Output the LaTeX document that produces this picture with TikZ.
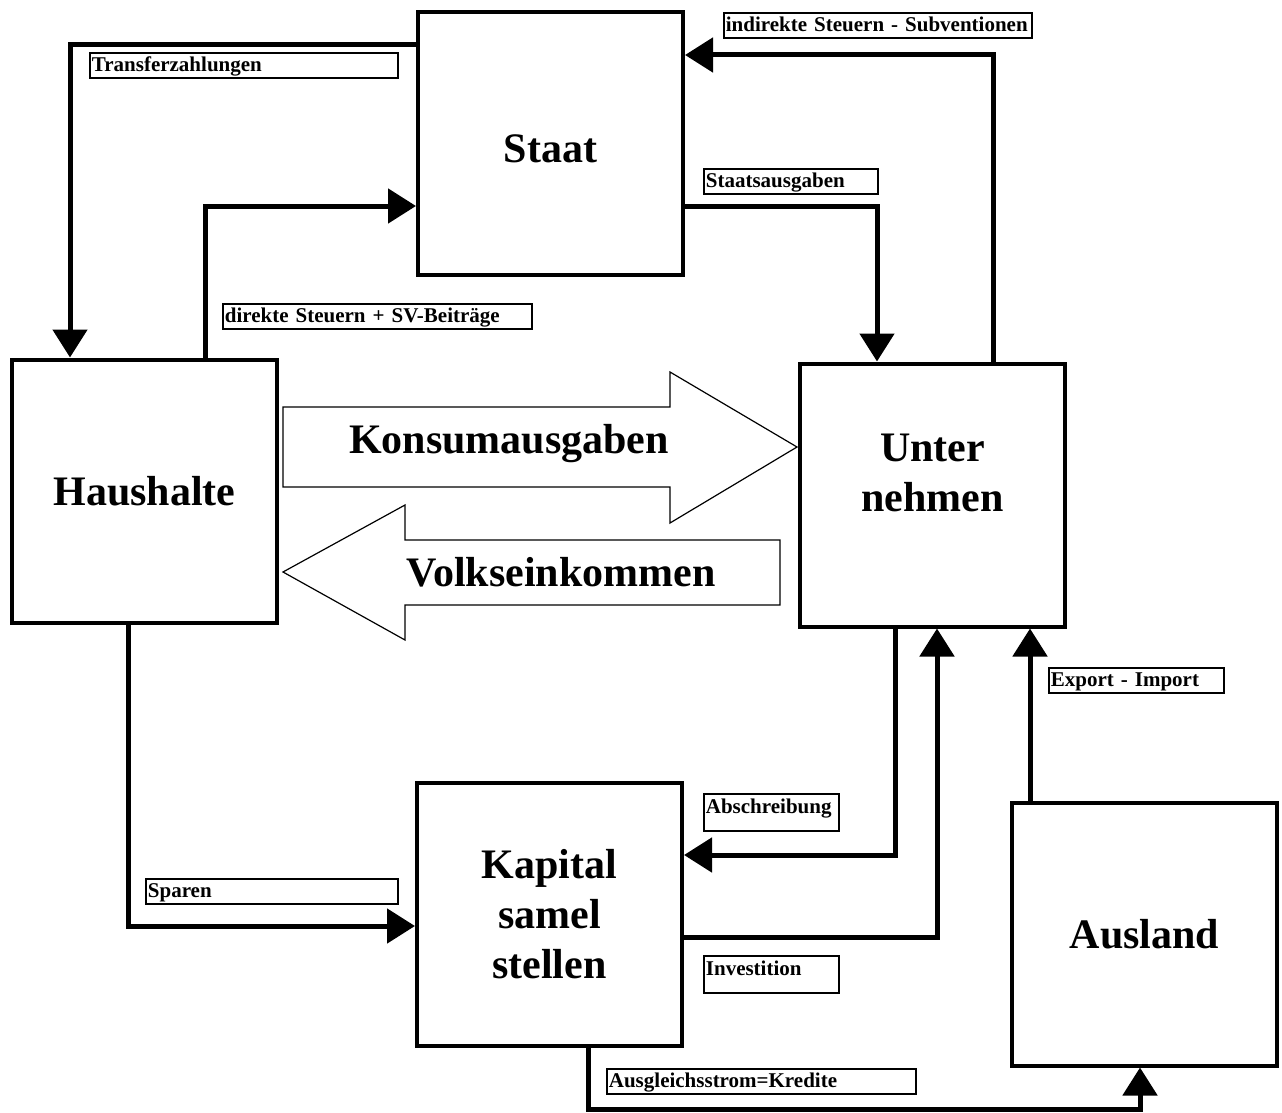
\documentclass[tikz,border=0pt]{standalone}
\usepackage{fontspec}
\setmainfont{Liberation Serif}
\usetikzlibrary{arrows.meta}
\tikzset{
  sec/.style    = {draw, line width=4pt, minimum width=265pt, minimum height=263pt,
                   inner sep=0pt, align=center, font=\fontsize{42}{50}\selectfont\bfseries},
  lbl/.style    = {draw, line width=1.8pt, anchor=north west, inner sep=2pt, align=left,
                   text width=#1, minimum height=25pt, text height=16.5pt, text depth=3.5pt,
                   font=\fontsize{21}{24}\selectfont\bfseries},
  tall/.style   = {minimum height=37pt, text depth=15pt},
  fl/.style     = {-{Triangle[length=28pt,width=34pt]}, line width=5pt},
  big/.style    = {draw, line width=1.2pt, fill=white},
  bigtxt/.style = {align=center, font=\fontsize{42}{50}\selectfont\bfseries},
}
\begin{document}
\begin{tikzpicture}[x=1pt, y=-1pt]
  \fill[white] (0,0) rectangle (1282,1113);
  \useasboundingbox (0,0) rectangle (1282,1113);
  % sectors
  \node[sec] (staat)   at (550.5,143.5) {};
  \node[sec] (haus)    at (144.5,491)   {Haushalte};
  \node[sec] (unter)   at (932.5,495)   {};
  \node[sec] (kapital) at (549.5,914)   {Kapital\\samel\\stellen};
  \node[sec] (ausland) at (1144.5,934)  {Ausland};
  \node[bigtxt] (staattxt) at ([yshift=-5pt]staat.center) {Staat};
  \node[bigtxt] (untertxt) at ([yshift=22pt]unter.center) {Unter\\nehmen};
  % big flows
  \draw[big] (283,407) -- (670,407) -- (670,372) -- (797,447) -- (670,523)
             -- (670,487) -- (283,487) -- cycle;
  \draw[big] (283,572) -- (405,505) -- (405,540) -- (780,540) -- (780,605)
             -- (405,605) -- (405,640) -- cycle;
  \node[bigtxt] (konsum) at (509,444) {Konsumausgaben};
  \node[bigtxt] (volk)   at (561,572) {Volkseinkommen};
  % flows
  \draw[fl] ([yshift=98.5pt]staat.west) -| ([xshift=-74.5pt]haus.north);
  \draw[fl] ([xshift=60.5pt]haus.north) |- ([yshift=-62.5pt]staat.west);
  \draw[fl] ([yshift=-62.5pt]staat.east) -| ([xshift=-55.5pt]unter.north);
  \draw[fl] ([xshift=60.5pt]unter.north) |- ([yshift=88.5pt]staat.east);
  \draw[fl] ([xshift=-16.5pt]haus.south) |- ([yshift=-12pt]kapital.west);
  \draw[fl] ([xshift=-37.5pt]unter.south) |- ([yshift=59pt]kapital.east);
  \draw[fl] ([yshift=-23pt]kapital.east) -| ([xshift=4.5pt]unter.south);
  \draw[fl] ([xshift=-114.5pt]ausland.north) -- ([xshift=97.5pt]unter.south);
  \draw[fl] ([xshift=38.5pt]kapital.south) -- ++(0,62) -| ([xshift=-4.5pt]ausland.south);
  % labels
  \node[lbl=304pt] (ltrans)  at (89,52)    {Transferzahlungen};
  \node[lbl=305pt] (ldirekt) at (222,303)  {direkte Steuern + SV-Beiträge};
  \node[lbl=304pt] (lindir)  at (723,12)   {indirekte Steuern - Subventionen};
  \node[lbl=170pt] (lstaat)  at (703,168)  {Staatsausgaben};
  \node[lbl=131pt, tall] (labschr) at (703,793) {Abschreibung};
  \node[lbl=171pt] (lexport) at (1048,667) {Export - Import};
  \node[lbl=248pt] (lsparen) at (145,878)  {Sparen};
  \node[lbl=131pt, tall] (linvest) at (703,955) {Investition};
  \node[lbl=305pt] (lausgl)  at (606,1068) {Ausgleichsstrom=Kredite};
\end{tikzpicture}
\end{document}
